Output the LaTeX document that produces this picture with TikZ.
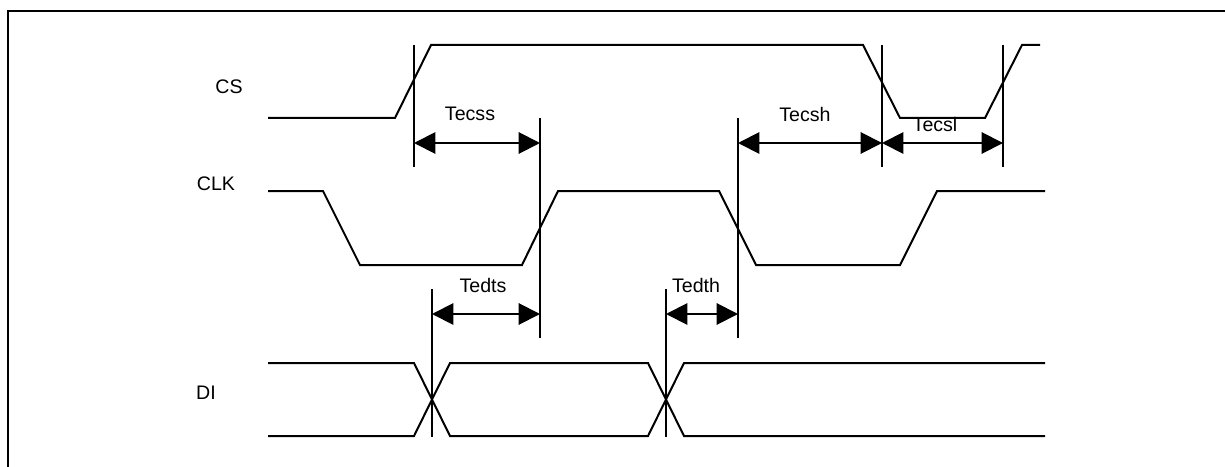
\documentclass[tikz,border=0pt]{standalone}
\usepackage{fontspec}
\setmainfont{Liberation Sans}
\usetikzlibrary{arrows.meta}

\begin{document}
\begin{tikzpicture}[x=0.75pt, y=-0.75pt,
  sig/.style = {line width=1.5pt, line join=miter},
  guide/.style = {line width=1.1pt},
  dim/.style = {{Triangle[length=16pt,width=16pt]}-{Triangle[length=16pt,width=16pt]}, line width=1.5pt},
  lbl/.style = {font=\fontsize{14.7}{16}\selectfont, inner sep=0pt}]
\useasboundingbox (0,0) rectangle (1225,467);
\draw[line width=1.6pt] (8,467) -- (8,11) -- (1225,11);
% signal names
\node[lbl] (cs) at (229,87) {CS};
\node[lbl] (clk) at (216,184) {CLK};
\node[lbl] (di) at (206,393) {DI};
% waveforms
\draw[sig] (268,118) -- (395,118) -- (431,45) -- (863,45) -- (900,118) -- (985,118) -- (1022,45) -- (1040,45);
\draw[sig] (268,191) -- (323,191) -- (360,265) -- (522,265) -- (558,191) -- (719,191) -- (756,265) -- (900,265) -- (937,191) -- (1045,191);
\draw[sig] (268,363) -- (414,363) -- (450,436) -- (648,436) -- (684,363) -- (1045,363);
\draw[sig] (268,436) -- (414,436) -- (450,363) -- (648,363) -- (684,436) -- (1045,436);
% guide lines
\draw[guide] (414,45) -- (414,167);
\draw[guide] (882,45) -- (882,167);
\draw[guide] (1003,45) -- (1003,167);
\draw[guide] (540,118) -- (540,338);
\draw[guide] (738,118) -- (738,338);
\draw[guide] (432,289) -- (432,437);
\draw[guide] (666,289) -- (666,437);
% timing ends
\coordinate (c1) at (414,143);
\coordinate (c2) at (540,143);
\coordinate (c3) at (738,143);
\coordinate (c4) at (882,143);
\coordinate (c5) at (1003,143);
\coordinate (d1) at (432,314);
\coordinate (d2) at (540,314);
\coordinate (d3) at (666,314);
\coordinate (d4) at (738,314);
\draw[dim] (c1) -- (c2);
\draw[dim] (c3) -- (c4);
\draw[dim] (c4) -- (c5);
\draw[dim] (d1) -- (d2);
\draw[dim] (d3) -- (d4);
\node[lbl] (tecss) at (470,114) {Tecss};
\node[lbl] (tecsh) at (805,114) {Tecsh};
\node[lbl] (tecsl) at (935,124) {Tecsl};
\node[lbl] (tedts) at (483,285) {Tedts};
\node[lbl] (tedth) at (696,285) {Tedth};
\end{tikzpicture}
\end{document}
